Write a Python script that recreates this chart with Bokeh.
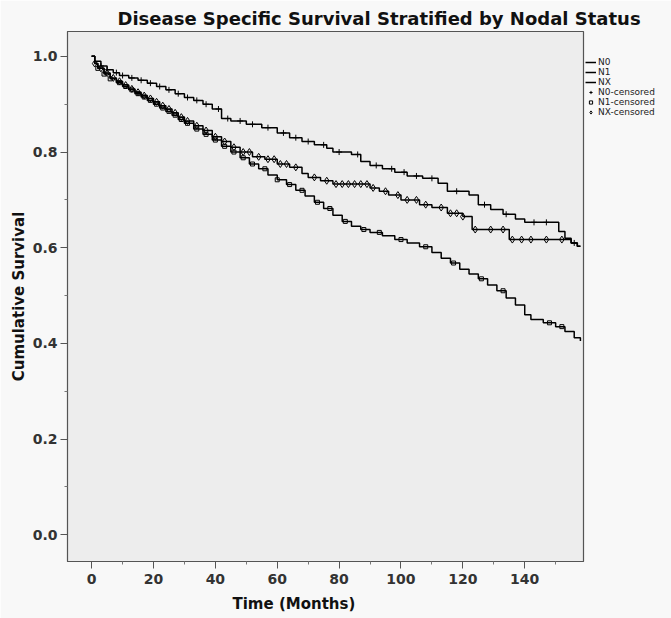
import numpy as np
from bokeh.plotting import figure
from bokeh.models import Range1d, Legend, LegendItem, FixedTicker, CustomJSTickFormatter, Title
from bokeh.embed import file_html
from bokeh.resources import INLINE

# ---- data ----
n0_time = [0, 1, 3, 5, 7, 9, 12, 15, 18, 21, 24, 27, 30, 33, 36, 39, 42, 45, 50, 55, 60, 64, 68, 72, 76, 78, 84, 87, 90, 94, 98, 102, 107, 112, 115, 122, 125, 129, 133, 137, 140, 151, 153, 155, 157, 158]
n0_surv = [1.0, 0.99, 0.98, 0.972, 0.966, 0.96, 0.955, 0.95, 0.944, 0.937, 0.93, 0.922, 0.914, 0.908, 0.90, 0.89, 0.87, 0.865, 0.858, 0.851, 0.84, 0.83, 0.822, 0.815, 0.808, 0.80, 0.795, 0.78, 0.772, 0.765, 0.758, 0.75, 0.745, 0.735, 0.718, 0.71, 0.69, 0.68, 0.67, 0.66, 0.653, 0.634, 0.62, 0.61, 0.603, 0.603]

nx_time = [0, 1, 2, 4, 6, 8, 10, 12, 14, 16, 18, 20, 22, 24, 26, 28, 30, 33, 36, 39, 42, 45, 48, 52, 56, 60, 64, 68, 70, 74, 78, 90, 93, 96, 100, 106, 110, 115, 120, 123, 135, 155, 157, 158]
nx_surv = [1.0, 0.985, 0.975, 0.965, 0.955, 0.948, 0.94, 0.932, 0.925, 0.918, 0.912, 0.905, 0.897, 0.89, 0.882, 0.873, 0.865, 0.855, 0.845, 0.832, 0.822, 0.81, 0.80, 0.79, 0.785, 0.775, 0.768, 0.755, 0.747, 0.74, 0.733, 0.725, 0.718, 0.71, 0.70, 0.69, 0.684, 0.672, 0.665, 0.638, 0.617, 0.61, 0.603, 0.603]

n1_time = [0, 1, 2, 4, 6, 8, 10, 12, 14, 16, 18, 20, 22, 24, 26, 28, 30, 33, 36, 39, 42, 45, 48, 51, 54, 57, 60, 63, 66, 69, 72, 75, 78, 81, 84, 87, 90, 94, 98, 102, 106, 110, 113, 116, 119, 122, 125, 128, 131, 134, 137, 140, 142, 146, 150, 153, 156, 158]
n1_surv = [1.0, 0.985, 0.975, 0.963, 0.953, 0.945, 0.937, 0.93, 0.922, 0.915, 0.908, 0.9, 0.892, 0.885, 0.877, 0.868, 0.86, 0.848, 0.837, 0.825, 0.812, 0.8, 0.788, 0.775, 0.765, 0.752, 0.742, 0.732, 0.72, 0.708, 0.695, 0.682, 0.668, 0.655, 0.645, 0.638, 0.632, 0.625, 0.617, 0.61, 0.602, 0.59, 0.578, 0.568, 0.555, 0.545, 0.535, 0.522, 0.51, 0.495, 0.48, 0.46, 0.45, 0.443, 0.435, 0.425, 0.412, 0.405]

n0_censor = [3, 5, 8, 10, 13, 16, 19, 22, 25, 28, 31, 34, 37, 41, 44, 48, 52, 57, 62, 66, 70, 75, 80, 86, 92, 97, 101, 105, 110, 118, 127, 134, 143, 147, 156]
nx_censor = [1, 3, 5, 7, 9, 11, 13, 15, 17, 19, 21, 23, 25, 27, 29, 31, 34, 37, 40, 43, 46, 49, 51, 54, 57, 59, 61, 63, 66, 72, 76, 79, 81, 83, 85, 87, 89, 91, 95, 99, 102, 105, 108, 113, 116, 118, 120, 124, 129, 133, 136, 139, 142, 147, 152]
n1_censor = [2, 4, 6, 9, 11, 13, 15, 17, 19, 21, 23, 25, 27, 29, 31, 34, 37, 40, 43, 46, 49, 52, 56, 60, 64, 68, 73, 77, 82, 88, 93, 100, 108, 117, 126, 133, 148, 152]

x_ticks = [0, 20, 40, 60, 80, 100, 120, 140]
y_ticks = [0.0, 0.2, 0.4, 0.6, 0.8, 1.0]


def at(times, surv, ct):
    t = np.asarray(times)
    s = np.asarray(surv)
    idx = np.searchsorted(t, np.asarray(ct), side="right") - 1
    return s[idx]


FONT = "DejaVu Sans"
p = figure(frame_width=516, frame_height=530, output_backend="svg", toolbar_location=None,
           x_range=Range1d(-7.8, 159), y_range=Range1d(-0.056, 1.052),
           min_border_left=67, min_border_right=0, min_border_top=31, min_border_bottom=0)
p.background_fill_color = "#ededed"
p.border_fill_color = "#f8f8f8"
p.outline_line_color = "#555555"
p.outline_line_width = 1.2
p.grid.visible = False

p.title.text = "Disease Specific Survival Stratified by Nodal Status"
p.title.text_font = FONT
p.title.text_font_size = "18px"
p.title.text_font_style = "bold"
p.title.text_color = "#111111"
p.title.align = "left"
p.title.offset = 50
p.title.standoff = 5

for ax in (p.xaxis[0], p.yaxis[0]):
    ax.axis_label_text_font = FONT
    ax.axis_label_text_font_size = "15px"
    ax.axis_label_text_font_style = "bold"
    ax.axis_label_text_color = "#111111"
    ax.major_label_text_font = FONT
    ax.major_label_text_font_size = "14px"
    ax.major_label_text_font_style = "bold"
    ax.major_label_text_color = "#333333"
    ax.axis_line_color = "#555555"
    ax.major_tick_line_color = "#555555"
    ax.minor_tick_line_color = "#777777"
    ax.major_tick_out = 7
    ax.major_tick_in = 0
    ax.minor_tick_out = 3
    ax.minor_tick_in = 0

p.yaxis.axis_label = "Cumulative Survival"
p.xaxis.ticker = FixedTicker(ticks=x_ticks, minor_ticks=[10, 30, 50, 70, 90, 110, 130, 150])
p.yaxis.ticker = FixedTicker(ticks=y_ticks, minor_ticks=[0.1, 0.3, 0.5, 0.7, 0.9])
p.yaxis.formatter = CustomJSTickFormatter(code="return tick.toFixed(1);")
p.xaxis.major_label_standoff = 5
p.yaxis.major_label_standoff = 3
p.yaxis.axis_label_standoff = 2

xlab = Title(text="Time (Months)", align="left", offset=165, standoff=13,
             text_font=FONT, text_font_size="15px", text_font_style="bold",
             text_color="#111111")
p.add_layout(xlab, "below")

r0 = p.step(n0_time, n0_surv, mode="after", line_color="black", line_width=1.5)
r1 = p.step(n1_time, n1_surv, mode="after", line_color="black", line_width=1.5)
rx = p.step(nx_time, nx_surv, mode="after", line_color="black", line_width=1.5)

c0 = p.scatter(n0_censor, at(n0_time, n0_surv, n0_censor), marker="cross", size=6,
               line_color="black", line_width=1)
c1 = p.scatter(n1_censor, at(n1_time, n1_surv, n1_censor), marker="square", size=4,
               line_color="black", fill_color=None, line_width=1)
cx = p.scatter(nx_censor, at(nx_time, nx_surv, nx_censor), marker="diamond", size=7,
               line_color="black", fill_color=None, line_width=1)

legend = Legend(items=[
    LegendItem(label="N0", renderers=[r0]),
    LegendItem(label="N1", renderers=[r1]),
    LegendItem(label="NX", renderers=[rx]),
    LegendItem(label="N0-censored", renderers=[c0]),
    LegendItem(label="N1-censored", renderers=[c1]),
    LegendItem(label="NX-censored", renderers=[cx]),
], location="top_left")
legend.label_text_font = FONT
legend.label_text_font_size = "9px"
legend.label_text_color = "#222222"
legend.label_height = 8
legend.glyph_height = 8
legend.glyph_width = 11
legend.label_standoff = 2
legend.spacing = 0
legend.padding = 0
legend.margin = 0
legend.border_line_color = None
legend.background_fill_alpha = 0
legend.location = (2, 444)
p.add_layout(legend, "right")

open("out.html", "w").write(file_html(p, INLINE))
